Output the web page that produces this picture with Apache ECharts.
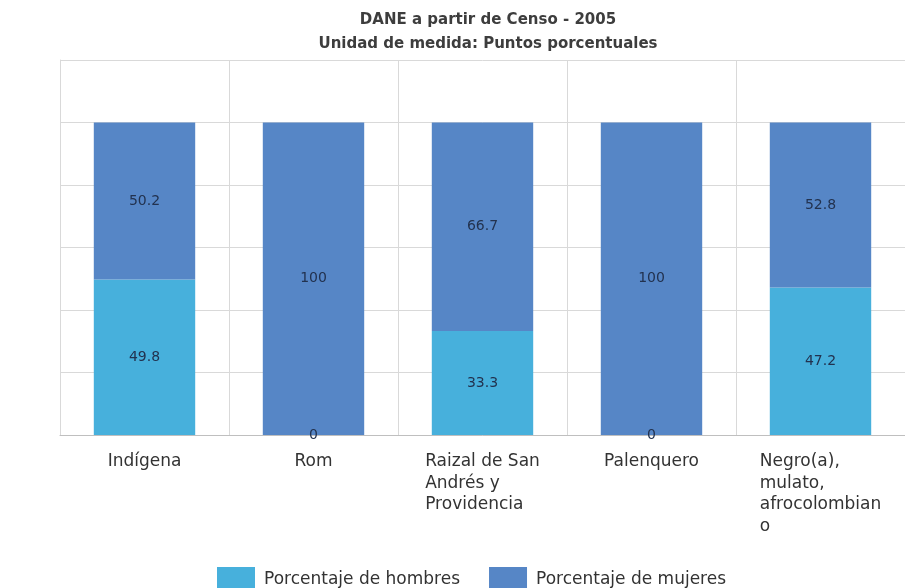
<!DOCTYPE html>
<html>
<head>
<meta charset="utf-8">
<title>Porcentaje de hombres y mujeres por grupo étnico</title>
<script src="https://cdn.jsdelivr.net/npm/echarts@6/dist/echarts.min.js"></script>
<style>
  html, body { margin: 0; padding: 0; background: #ffffff; }
  #chart { width: 905px; height: 588px; }
</style>
</head>
<body>
<div id="chart"></div>
<script>
// Ethnic groups (Censo 2005) and the share of men / women in each one
const categories = [
  'Indígena',
  'Rom',
  'Raizal de San\nAndrés y\nProvidencia',
  'Palenquero',
  'Negro(a),\nmulato,\nafrocolombian\no'
];
const hombres = [49.8, 0, 33.3, 0, 47.2];
const mujeres = [50.2, 100, 66.7, 100, 52.8];

const titleLines = ['DANE a partir de Censo - 2005', 'Unidad de medida: Puntos porcentuales'];
const legendNames = ['Porcentaje de hombres', 'Porcentaje de mujeres'];

const FONT = 'DejaVu Sans, sans-serif';
const GRID_COLOR = '#d9d9d9';

const chart = echarts.init(document.getElementById('chart'), null, { renderer: 'canvas' });

const labelStyle = {
  show: true,
  position: 'inside',
  color: '#22324f',
  fontFamily: FONT,
  fontSize: 14
};

chart.setOption({
  animation: false,
  backgroundColor: '#ffffff',
  title: {
    text: titleLines.join('\n'),
    left: 483,
    textAlign: 'center',
    top: 3,
    textStyle: {
      fontFamily: FONT,
      fontSize: 15,
      fontWeight: 'bold',
      color: '#3d3d3d',
      lineHeight: 24
    }
  },
  legend: {
    data: legendNames,
    left: 212,
    top: 562,
    itemWidth: 38,
    itemHeight: 26,
    itemGap: 29,
    icon: 'rect',
    textStyle: { fontFamily: FONT, fontSize: 17, color: '#333333', padding: [0, 0, 0, 4] }
  },
  grid: { left: 60, right: 0, top: 60, bottom: 153, containLabel: false },
  xAxis: {
    type: 'category',
    data: categories,
    axisTick: { show: false },
    axisLine: { show: true, lineStyle: { color: '#bfbfbf', width: 1 } },
    splitLine: { show: true, lineStyle: { color: GRID_COLOR, width: 1 } },
    axisLabel: {
      interval: 0,
      margin: 16,
      formatter: function (value) {
        return value.split('\n').map(function (l) { return '{a|' + l + '}'; }).join('\n');
      },
      rich: {
        a: { align: 'left', fontFamily: FONT, fontSize: 17, lineHeight: 21.5, color: '#333333' }
      }
    }
  },
  yAxis: {
    type: 'value',
    min: 0,
    max: 120,
    interval: 20,
    axisLabel: { show: false },
    axisTick: { show: false },
    axisLine: { show: true, lineStyle: { color: GRID_COLOR } },
    splitLine: { show: true, lineStyle: { color: GRID_COLOR, width: 1 } }
  },
  series: [
    {
      name: legendNames[0],
      type: 'bar',
      stack: 'total',
      data: hombres,
      barWidth: '60%',
      itemStyle: { color: '#47b0dc' },
      label: labelStyle
    },
    {
      name: legendNames[1],
      type: 'bar',
      stack: 'total',
      data: mujeres,
      barWidth: '60%',
      itemStyle: { color: '#5686c6' },
      label: labelStyle
    }
  ]
});
</script>
</body>
</html>
